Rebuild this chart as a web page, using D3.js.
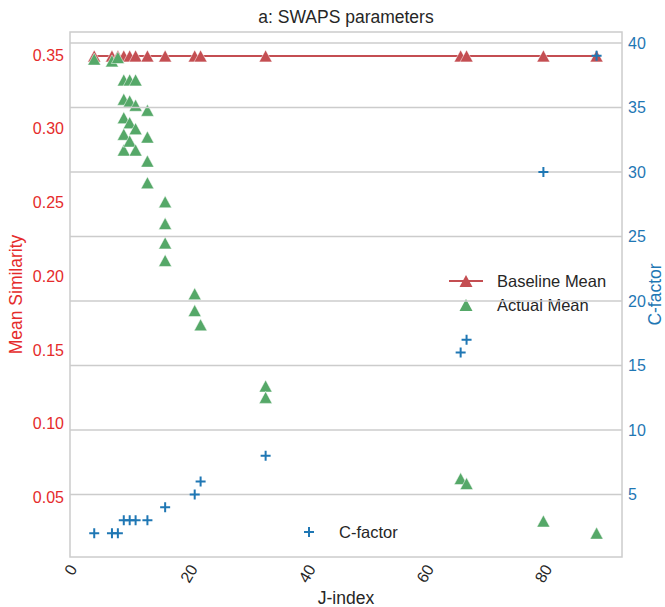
<!DOCTYPE html>
<html>
<head>
<meta charset="utf-8">
<script src="https://cdn.jsdelivr.net/npm/d3@7"></script>
<style>
  body { margin: 0; background: #fff; }
  svg { display: block; font-family: "Liberation Sans", Arial, sans-serif; }
</style>
</head>
<body>
<svg id="chart" width="665" height="607"></svg>
<script>
// ---- data ----
const baselineJ = [4, 7, 8, 9, 10, 11, 13, 16, 21, 22, 33, 66, 67, 80, 89];
const baselineMean = [0.3495, 0.3495, 0.3495, 0.3495, 0.3495, 0.3495, 0.3495, 0.3495, 0.3495, 0.3495, 0.3495, 0.3495, 0.3495, 0.3495, 0.3495];
const cFactor = [2, 2, 2, 3, 3, 3, 3, 4, 5, 6, 8, 16, 17, 30, 39];
const actualJ = [4, 7, 8,
  9, 9, 9, 9, 9,
  10, 10, 10, 10,
  11, 11, 11, 11,
  13, 13, 13, 13,
  16, 16, 16, 16,
  21, 21, 22, 33, 33, 66, 67, 80, 89];
const actualMean = [0.3473, 0.3461, 0.3484,
  0.3332, 0.3201, 0.3076, 0.2963, 0.2856,
  0.3332, 0.3189, 0.3042, 0.2917,
  0.3332, 0.3160, 0.3001, 0.2856,
  0.3126, 0.2944, 0.2781, 0.2634,
  0.2505, 0.2357, 0.2226, 0.2107,
  0.1881, 0.1767, 0.1670, 0.1255, 0.1178, 0.0627, 0.0593, 0.0339, 0.0257];
const xTicks = [0, 20, 40, 60, 80];
const yLeftTicks = [0.05, 0.10, 0.15, 0.20, 0.25, 0.30, 0.35];
const yRightTicks = [5, 10, 15, 20, 25, 30, 35, 40];
const titleText = "a: SWAPS parameters";
const xLabel = "J-index";
const yLeftLabel = "Mean Similarity";
const yRightLabel = "C-factor";
const legend1 = ["Baseline Mean", "Actual Mean"];
const legend2 = ["C-factor"];

// ---- layout ----
const L = 70, R = 622, T = 32, B = 557;
const cRed = "#c44e52", cGreen = "#55a868", cBlue = "#1f77b4";
const cRedText = "#e52b2b", cText = "#262626", cGrid = "#cccccc";

const svg = d3.select("#chart");
const x = d3.scaleLinear().domain([-0.1, 93.3]).range([L, R]);
const yL = d3.scaleLinear().domain([0.0095, 0.3657]).range([B, T]);
const yR = d3.scaleLinear().domain([0.15, 40.85]).range([B, T]);

const tri = (w, h) => `M0,${-h/2}L${w/2},${h/2}L${-w/2},${h/2}Z`;
const TW = 13, TH = 12;

// frame
svg.append("rect").attr("x", L).attr("y", T).attr("width", R - L).attr("height", B - T)
  .attr("fill", "none").attr("stroke", cGrid).attr("stroke-width", 1.5);

// baseline line + markers
const bData = baselineJ.map((j, i) => ({j, v: baselineMean[i]}));
svg.append("path").datum(bData)
  .attr("d", d3.line().x(d => x(d.j)).y(d => yL(d.v)))
  .attr("fill", "none").attr("stroke", cRed).attr("stroke-width", 2);
svg.append("g").selectAll("path").data(bData).join("path")
  .attr("transform", d => `translate(${x(d.j)},${yL(d.v)})`)
  .attr("d", tri(TW, TH)).attr("fill", cRed).attr("stroke", "#fff").attr("stroke-width", 0.5);

// actual mean markers
const aData = actualJ.map((j, i) => ({j, v: actualMean[i]}));
svg.append("g").selectAll("path").data(aData).join("path")
  .attr("transform", d => `translate(${x(d.j)},${yL(d.v)})`)
  .attr("d", tri(TW, TH)).attr("fill", cGreen).attr("stroke", "#fff").attr("stroke-width", 0.5);

// legend 1 (center right)
const lg1 = svg.append("g");
const ly1 = [281, 305];
lg1.append("line").attr("x1", 449).attr("x2", 483).attr("y1", ly1[0]).attr("y2", ly1[0])
  .attr("stroke", cRed).attr("stroke-width", 2);
lg1.append("path").attr("transform", `translate(466,${ly1[0]})`).attr("d", tri(TW, TH)).attr("fill", cRed);
lg1.append("path").attr("transform", `translate(466,${ly1[1]})`).attr("d", tri(TW, TH)).attr("fill", cGreen);
lg1.selectAll("text").data(legend1).join("text")
  .attr("x", 497).attr("y", (d, i) => ly1[i]).attr("dy", "0.35em")
  .attr("font-size", 16.5).attr("fill", cText).text(d => d);

// right axis grid (drawn over first legend)
svg.append("g").selectAll("line").data(yRightTicks).join("line")
  .attr("x1", L).attr("x2", R).attr("y1", d => yR(d)).attr("y2", d => yR(d))
  .attr("stroke", cGrid).attr("stroke-width", 1.5);

// C-factor plus markers
const cData = baselineJ.map((j, i) => ({j, c: cFactor[i]}));
const P = 5;
svg.append("g").selectAll("path").data(cData).join("path")
  .attr("transform", d => `translate(${x(d.j)},${yR(d.c)})`)
  .attr("d", `M${-P},0H${P}M0,${-P}V${P}`)
  .attr("stroke", cBlue).attr("stroke-width", 2).attr("fill", "none");

// legend 2 (lower center)
svg.append("path").attr("transform", "translate(309,532)")
  .attr("d", `M${-P},0H${P}M0,${-P}V${P}`).attr("stroke", cBlue).attr("stroke-width", 2);
svg.append("text").attr("x", 339).attr("y", 532).attr("dy", "0.35em")
  .attr("font-size", 16.5).attr("fill", cText).text(legend2[0]);

// left tick labels
svg.append("g").selectAll("text").data(yLeftTicks).join("text")
  .attr("x", 64).attr("y", d => yL(d)).attr("dy", "0.35em").attr("text-anchor", "end")
  .attr("font-size", 16).attr("fill", cRedText).text(d => d3.format(".2f")(d));

// right tick labels
svg.append("g").selectAll("text").data(yRightTicks).join("text")
  .attr("x", 628).attr("y", d => yR(d)).attr("dy", "0.35em").attr("text-anchor", "start")
  .attr("font-size", 16).attr("fill", cBlue).text(d => d);

// x tick labels rotated
const xt = svg.append("g").selectAll("text").data(xTicks).join("text")
  .attr("text-anchor", "middle").attr("dy", "0.35em")
  .attr("font-size", 16).attr("fill", cText).text(d => d);
xt.each(function(d) {
  const w = this.getComputedTextLength();
  const h = 11.5;
  const bh = w * Math.sin(Math.PI / 3) + h * Math.cos(Math.PI / 3);
  const cy = B + 6 + bh / 2;
  d3.select(this).attr("transform", `translate(${x(d)},${cy}) rotate(-60)`);
});

// axis labels and title
svg.append("text").attr("x", (L + R) / 2).attr("y", 598).attr("dy", "0.35em")
  .attr("text-anchor", "middle").attr("font-size", 17.5).attr("fill", cText).text(xLabel);
svg.append("text").attr("transform", `translate(16,${(T + B) / 2}) rotate(-90)`).attr("dy", "0.35em")
  .attr("text-anchor", "middle").attr("font-size", 17.5).attr("fill", cRedText).text(yLeftLabel);
svg.append("text").attr("transform", `translate(655,${(T + B) / 2}) rotate(-90)`).attr("dy", "0.35em")
  .attr("text-anchor", "middle").attr("font-size", 17.5).attr("fill", cBlue).text(yRightLabel);
svg.append("text").attr("x", (L + R) / 2).attr("y", 23)
  .attr("text-anchor", "middle").attr("font-size", 17.5).attr("fill", cText).text(titleText);
</script>
</body>
</html>
